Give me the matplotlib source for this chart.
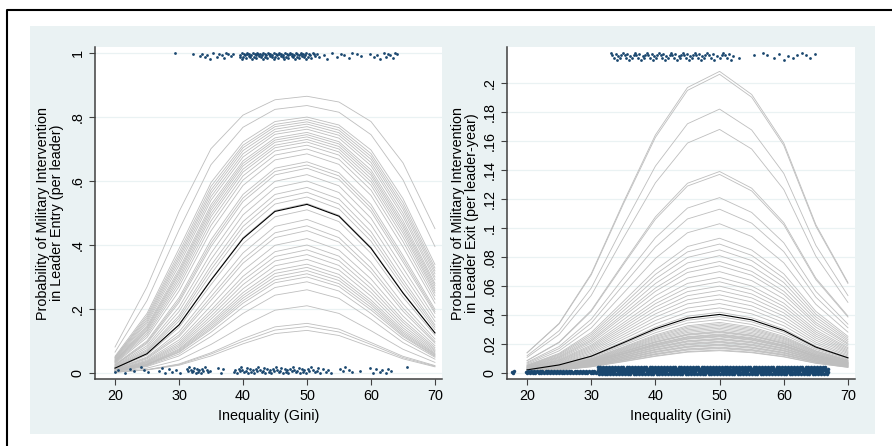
# -*- coding: utf-8 -*-

import numpy
import matplotlib
matplotlib.use('Agg')
import matplotlib.pyplot as plt
from matplotlib.lines import Line2D
from matplotlib.patches import Rectangle

plt.rcParams['font.family'] = ['Liberation Sans', 'DejaVu Sans']

gini = [20, 25, 30, 35, 40, 45, 50, 55, 60, 65, 70]

# mean predicted probability (black lines)
entry_mean = [0.015, 0.06, 0.15, 0.29, 0.42, 0.505, 0.527, 0.49, 0.39, 0.25, 0.125]
exit_mean = [0.0023, 0.0057, 0.0117, 0.021, 0.0306, 0.0379, 0.0405, 0.0368, 0.0294, 0.018, 0.0106]

# simulated draws (grey lines), entry in 1/1000, exit in 1/10000
entry_draws = [
    [81, 269, 504, 701, 806, 854, 865, 847, 786, 657, 451],
    [65, 226, 447, 651, 768, 824, 836, 815, 745, 604, 395],
    [52, 186, 388, 595, 722, 786, 800, 775, 697, 545, 339],
    [49, 179, 376, 583, 712, 777, 792, 767, 686, 533, 328],
    [48, 173, 366, 572, 704, 770, 785, 759, 677, 522, 319],
    [46, 167, 357, 562, 695, 762, 778, 751, 668, 512, 310],
    [44, 161, 347, 551, 685, 754, 770, 743, 658, 500, 300],
    [42, 155, 336, 540, 675, 746, 762, 734, 648, 489, 291],
    [40, 148, 324, 526, 663, 735, 752, 723, 635, 476, 280],
    [38, 143, 316, 517, 655, 728, 745, 716, 626, 466, 273],
    [37, 139, 309, 508, 647, 721, 738, 708, 618, 457, 265],
    [36, 134, 300, 498, 637, 712, 730, 700, 608, 447, 257],
    [34, 130, 291, 488, 628, 704, 722, 691, 598, 437, 250],
    [33, 124, 281, 475, 616, 694, 712, 681, 587, 425, 241],
    [31, 118, 270, 461, 603, 681, 700, 668, 572, 411, 230],
    [29, 111, 256, 444, 586, 666, 685, 652, 555, 394, 218],
    [26, 100, 235, 416, 558, 640, 660, 626, 527, 367, 199],
    [25, 96, 227, 405, 547, 630, 650, 616, 516, 357, 192],
    [24, 92, 220, 395, 536, 619, 640, 605, 505, 347, 186],
    [22, 85, 205, 374, 515, 599, 620, 585, 484, 328, 173],
    [20, 79, 192, 355, 494, 579, 600, 564, 463, 310, 161],
    [19, 73, 179, 336, 473, 558, 580, 544, 442, 292, 150],
    [17, 69, 171, 323, 458, 543, 565, 528, 427, 280, 143],
    [16, 65, 162, 309, 443, 528, 550, 513, 412, 268, 135],
    [15, 61, 152, 292, 423, 508, 530, 493, 393, 252, 126],
    [14, 56, 142, 276, 404, 488, 510, 473, 374, 237, 118],
    [12, 50, 128, 253, 375, 458, 480, 443, 346, 216, 106],
    [12, 47, 119, 238, 356, 438, 460, 423, 328, 203, 98],
    [11, 44, 113, 227, 343, 423, 445, 409, 315, 193, 93],
    [10, 40, 103, 210, 320, 399, 420, 384, 294, 178, 85],
    [9, 37, 96, 196, 302, 379, 400, 365, 277, 166, 79],
    [8, 35, 90, 187, 289, 364, 385, 351, 264, 158, 74],
    [8, 33, 85, 177, 276, 350, 370, 336, 252, 149, 70],
    [7, 31, 80, 168, 263, 335, 355, 322, 240, 141, 66],
    [7, 29, 75, 159, 251, 321, 340, 308, 228, 134, 62],
    [7, 27, 72, 153, 242, 311, 330, 298, 220, 128, 59],
    [6, 26, 69, 147, 234, 301, 320, 289, 213, 123, 57],
    [6, 25, 66, 141, 226, 291, 310, 279, 205, 118, 54],
    [6, 24, 64, 136, 218, 282, 300, 270, 197, 114, 52],
    [5, 22, 59, 127, 206, 267, 285, 256, 186, 107, 49],
    [5, 20, 53, 114, 186, 243, 260, 233, 168, 95, 43],
    [4, 15, 40, 89, 147, 196, 210, 186, 132, 74, 33],
    [3, 10, 28, 63, 107, 144, 155, 137, 95, 52, 23],
    [2, 10, 26, 59, 99, 134, 145, 128, 89, 48, 21],
    [2, 9, 24, 53, 91, 123, 133, 117, 81, 44, 19],
]
exit_draws = [
    [141, 344, 686, 1177, 1642, 1969, 2080, 1921, 1586, 1024, 625],
    [140, 340, 678, 1165, 1625, 1949, 2060, 1902, 1570, 1013, 618],
    [120, 293, 587, 1016, 1427, 1719, 1820, 1676, 1377, 881, 535],
    [109, 267, 536, 931, 1312, 1586, 1680, 1545, 1266, 806, 488],
    [87, 215, 433, 758, 1077, 1309, 1390, 1275, 1038, 655, 394],
    [86, 211, 426, 747, 1061, 1290, 1370, 1256, 1023, 645, 387],
    [75, 184, 372, 654, 933, 1138, 1210, 1108, 899, 564, 338],
    [69, 170, 345, 608, 870, 1063, 1130, 1034, 838, 524, 313],
    [62, 154, 312, 551, 791, 968, 1030, 942, 761, 475, 283],
    [56, 137, 280, 495, 712, 873, 930, 849, 685, 426, 254],
    [53, 131, 267, 473, 681, 836, 890, 812, 655, 407, 242],
    [50, 125, 254, 451, 650, 798, 850, 776, 625, 388, 230],
    [48, 118, 241, 429, 618, 760, 810, 739, 595, 369, 219],
    [45, 112, 229, 407, 587, 722, 770, 702, 565, 350, 207],
    [43, 107, 219, 390, 564, 694, 740, 675, 542, 335, 199],
    [41, 101, 207, 368, 533, 656, 700, 638, 512, 317, 187],
    [38, 95, 194, 347, 502, 619, 660, 601, 483, 298, 176],
    [37, 90, 185, 330, 479, 590, 630, 574, 460, 284, 168],
    [35, 86, 176, 314, 456, 562, 600, 546, 438, 270, 159],
    [33, 81, 167, 298, 432, 534, 570, 519, 416, 256, 151],
    [31, 77, 158, 282, 409, 506, 540, 491, 394, 242, 143],
    [29, 72, 149, 266, 386, 478, 510, 464, 371, 228, 135],
    [27, 68, 139, 250, 363, 449, 480, 436, 349, 214, 126],
    [26, 64, 130, 234, 340, 421, 450, 409, 327, 201, 118],
    [24, 59, 121, 218, 317, 393, 420, 382, 305, 187, 110],
    [22, 55, 113, 202, 295, 365, 390, 354, 283, 173, 102],
    [21, 52, 107, 192, 279, 346, 370, 336, 268, 164, 97],
    [20, 49, 101, 181, 264, 327, 350, 318, 254, 155, 91],
    [19, 48, 98, 176, 256, 318, 340, 309, 246, 151, 89],
    [19, 46, 95, 170, 249, 309, 330, 300, 239, 146, 86],
    [18, 45, 92, 165, 241, 299, 320, 291, 232, 142, 83],
    [17, 43, 89, 160, 234, 290, 310, 281, 224, 137, 81],
    [17, 42, 86, 155, 226, 281, 300, 272, 217, 133, 78],
    [16, 40, 83, 150, 218, 271, 290, 263, 210, 128, 75],
    [16, 40, 82, 147, 215, 266, 285, 259, 206, 126, 74],
    [16, 39, 80, 144, 211, 262, 280, 254, 203, 124, 73],
    [15, 38, 77, 139, 203, 252, 270, 245, 195, 119, 70],
    [15, 37, 76, 136, 200, 248, 265, 240, 192, 117, 69],
    [15, 36, 74, 134, 196, 243, 260, 236, 188, 115, 67],
    [14, 35, 73, 131, 192, 238, 255, 231, 184, 112, 66],
    [14, 35, 71, 129, 188, 234, 250, 227, 181, 110, 65],
    [13, 33, 68, 123, 181, 224, 240, 218, 173, 106, 62],
    [13, 33, 67, 121, 177, 220, 235, 213, 170, 103, 61],
    [13, 32, 66, 118, 173, 215, 230, 209, 166, 101, 59],
    [12, 30, 63, 113, 165, 206, 220, 200, 159, 97, 57],
    [12, 30, 61, 110, 162, 201, 215, 195, 155, 95, 55],
    [12, 29, 60, 108, 158, 196, 210, 190, 152, 92, 54],
    [11, 28, 57, 103, 150, 187, 200, 181, 144, 88, 52],
    [11, 27, 55, 100, 147, 182, 195, 177, 141, 86, 50],
    [11, 26, 54, 97, 143, 178, 190, 172, 137, 83, 49],
    [10, 25, 51, 92, 135, 168, 180, 163, 130, 79, 46],
    [10, 24, 50, 90, 131, 164, 175, 159, 126, 77, 45],
    [9, 23, 48, 87, 128, 159, 170, 154, 123, 75, 44],
    [9, 22, 45, 82, 120, 149, 160, 145, 115, 70, 41],
    [9, 21, 44, 79, 116, 145, 155, 141, 112, 68, 40],
]

# observed gini of leaders with / without intervention (rug at 1 and 0)
entry_hi_gini = [29.4, 32.2, 33.3, 33.6, 34.0, 34.4, 34.8, 35.3, 36.0, 36.3, 36.7, 37.0, 37.4,
                 37.7, 38.1, 38.4, 39.5, 39.6, 39.8, 39.9, 40.0, 40.2, 40.3, 40.4, 40.6, 40.7,
                 40.9, 41.0, 41.1, 41.3, 41.4, 41.5, 41.7, 41.8, 42.0, 42.1, 42.2, 42.4, 42.5,
                 42.7, 42.8, 42.9, 43.1, 43.2, 43.4, 43.5, 43.6, 43.8, 43.9, 44.1, 44.2, 44.3,
                 44.5, 44.6, 44.8, 44.9, 45.0, 45.2, 45.3, 45.5, 45.6, 45.7, 45.9, 46.0, 46.2,
                 46.3, 46.4, 46.6, 46.7, 46.9, 47.0, 47.1, 47.3, 47.4, 47.6, 47.7, 47.8, 48.0,
                 48.1, 48.3, 48.4, 48.5, 48.7, 48.8, 49.0, 49.1, 49.2, 49.4, 49.5, 49.7, 49.8,
                 49.9, 50.1, 50.3, 50.5, 50.7, 50.9, 51.1, 51.3, 51.6, 51.9, 52.6, 53.2, 53.9,
                 54.7, 55.3, 55.8, 56.5, 57.1, 57.8, 58.5, 59.8, 60.5, 61.0, 61.4, 62.0, 62.3,
                 62.7, 63.0, 63.4, 63.8, 64.0]
entry_lo_gini = [20.0, 20.5, 21.6, 22.4, 22.9, 24.0, 24.6, 25.1, 26.9, 27.3, 27.8, 28.4, 28.9,
                 29.5, 30.1, 31.2, 31.4, 31.6, 31.8, 32.0, 32.2, 32.4, 32.6, 32.8, 33.0, 33.2,
                 33.4, 33.6, 33.8, 34.0, 34.3, 34.6, 34.8, 36.1, 36.5, 36.9, 38.6, 38.8, 39.0,
                 39.3, 39.5, 39.7, 39.9, 40.2, 40.4, 40.6, 40.8, 41.1, 41.3, 41.5, 41.7, 42.0,
                 42.2, 42.4, 42.6, 42.9, 43.1, 43.3, 43.5, 43.8, 44.0, 44.2, 44.4, 44.7, 44.9,
                 45.1, 45.3, 45.6, 45.8, 46.0, 46.2, 46.5, 46.7, 46.9, 47.1, 47.4, 47.6, 47.8,
                 48.0, 48.3, 48.5, 48.7, 48.9, 49.2, 49.4, 49.6, 49.8, 50.1, 50.3, 50.6, 50.9,
                 51.2, 51.5, 51.8, 52.1, 52.5, 52.9, 53.3, 53.7, 55.2, 55.6, 56.0, 56.5, 57.1,
                 58.3, 59.8, 60.3, 60.8, 61.4, 61.8, 62.3, 62.7, 63.2, 65.6]
exit_hi_gini = [33.1, 33.3, 33.5, 33.8, 34.0, 34.2, 34.5, 34.7, 34.9, 35.2, 35.4, 35.6, 35.9,
                36.1, 36.3, 36.6, 36.8, 37.0, 37.3, 37.5, 37.7, 38.0, 38.2, 38.4, 38.7, 38.9,
                39.1, 39.4, 39.6, 39.8, 40.1, 40.3, 40.5, 40.8, 41.0, 41.2, 41.5, 41.7, 41.9,
                42.2, 42.4, 42.6, 42.9, 43.1, 43.3, 43.6, 43.8, 44.0, 44.3, 44.5, 44.7, 45.0,
                45.2, 45.4, 45.7, 45.9, 46.1, 46.4, 46.6, 46.8, 47.1, 47.3, 47.5, 47.8, 48.0,
                48.3, 48.6, 48.9, 49.2, 49.6, 50.0, 50.3, 50.6, 50.9, 51.2, 51.5, 51.8, 52.1,
                53.0, 55.3, 56.8, 57.4, 58.5, 59.3, 60.0, 60.7, 61.4, 62.1, 62.8, 63.5, 64.1,
                64.8]
exit_lo_gini_thin = [17.8, 20.0, 20.4, 20.9, 21.3, 21.8, 22.2, 22.7, 23.1, 23.6, 24.0, 24.5, 24.9,
                     25.4, 25.8, 26.3, 26.7, 27.2, 27.6, 28.1, 28.5, 29.0, 29.4, 29.9, 30.3, 30.8]
exit_lo_gini = [31.2, 31.6, 32.1, 32.5, 33.0, 33.4, 33.9, 34.3, 34.8, 35.2, 35.7, 36.1, 36.6,
                37.0, 37.5, 37.9, 38.4, 38.8, 39.3, 39.7, 40.2, 40.6, 41.1, 41.5, 42.0, 42.4,
                42.9, 43.3, 43.8, 44.2, 44.7, 45.1, 45.6, 46.0, 46.5, 46.9, 47.4, 47.8, 48.3,
                48.7, 49.2, 49.6, 50.1, 50.5, 51.0, 51.4, 51.9, 52.3, 52.8, 53.2, 53.7, 54.1,
                54.6, 55.0, 55.5, 55.9, 56.4, 56.8, 57.3, 57.7, 58.2, 58.6, 59.1, 59.5, 60.0,
                60.4, 60.9, 61.3, 61.8, 62.2, 62.7, 63.1, 63.6, 64.0, 64.5, 64.9, 65.4, 65.8,
                66.3, 66.7]

# vertical jitter of the rug points
jit_entry_hi = [0.0, -0.004, -0.009, -0.002, -0.013, -0.006, -0.018, -0.001, -0.011, -0.003,
                -0.007, -0.015]
jit_entry_lo = [0.002, 0.008, 0.0, 0.013, 0.005, 0.017, 0.010, 0.003, 0.007, 0.015, 0.001, 0.011]
jit_exit_hi = [0.0, -0.0015, -0.003, -0.0008, -0.0045, -0.002, -0.0035, -0.001]
jit_exit_thin = [(0.0, 0.0003), (0.2, 0.0013), (-0.15, 0.0008)]
jit_exit_band = [(0.0, -0.0004), (0.22, 0.0008), (-0.1, 0.0020), (0.12, 0.0032), (-0.2, 0.0044)]

entry_ticks = [0, 0.2, 0.4, 0.6, 0.8, 1]
entry_ticklabels = ['0', '.2', '.4', '.6', '.8', '1']
exit_ticks = [0, .02, .04, .06, .08, .1, .12, .14, .16, .18, .2]
exit_ticklabels = ['0', '.02', '.04', '.06', '.08', '.1', '.12', '.14', '.16', '.18', '.2']

navy = '#1A476F'
W, H = 892, 446


def cyc(vals, n):
    return [vals[i % len(vals)] for i in range(n)]


def rug(ax, x, y, ms=2):
    ax.plot(x, y, 'o', ms=ms, mew=0, color=navy)


def style(ax, draws, mean, ticks, labels, ylabel):
    for row in draws:
        ax.plot(gini, row, color='#BEBEBE', lw=0.6)
    ax.plot(gini, mean, color='black', lw=0.8)
    ax.set_xlim(16.875, 71.1)
    ax.set_xticks([20, 30, 40, 50, 60, 70])
    ax.set_yticks(ticks)
    ax.set_yticklabels(labels, rotation=90, va='center')
    for s in ('top', 'right'):
        ax.spines[s].set_visible(False)
    for s in ('left', 'bottom'):
        ax.spines[s].set_color('#404040')
        ax.spines[s].set_linewidth(1.1)
    ax.tick_params(labelsize=10.4, length=4.5, width=0.8, color='#404040', pad=3)
    ax.grid(axis='y', color='#EAF2F3', lw=0.9)
    ax.set_axisbelow(True)
    ax.set_xlabel('Inequality (Gini)', fontsize=10.4)
    ax.xaxis.set_label_coords(0.5, -0.09)
    ax.set_ylabel(ylabel, fontsize=10.4, linespacing=1.05)


fig = plt.figure(figsize=(W/100, H/100), dpi=100)
fig.add_artist(Rectangle((30/W, 1-434/H), 845/W, 408/H, facecolor='#EAF2F3',
                         edgecolor='none', zorder=0))
fig.add_artist(Line2D([7/W, 7/W, 1.01], [-0.01, 1-10/H, 1-10/H], color='black', lw=1.5))

ax1 = fig.add_axes([95/W, 67/H, 347/W, 332/H])
ax2 = fig.add_axes([507/W, 67/H, 348/W, 332/H])

style(ax1, numpy.array(entry_draws)/1000., entry_mean, entry_ticks, entry_ticklabels,
      'Probability of Military Intervention\nin Leader Entry (per leader)')
ax1.set_ylim(-0.019, 1.019)
ax1.yaxis.set_label_coords(-0.089, 0.5)

style(ax2, numpy.array(exit_draws)/10000., exit_mean, exit_ticks, exit_ticklabels,
      'Probability of Military Intervention\nin Leader Exit (per leader-year)')
ax2.set_ylim(-0.004, 0.2248)
ax2.yaxis.set_label_coords(-0.080, 0.5)

rug(ax1, entry_hi_gini, [1 + j for j in cyc(jit_entry_hi, len(entry_hi_gini))])
rug(ax1, entry_lo_gini, cyc(jit_entry_lo, len(entry_lo_gini)))
rug(ax2, exit_hi_gini, [0.2205 + j for j in cyc(jit_exit_hi, len(exit_hi_gini))])
for dx, dy in jit_exit_thin:
    rug(ax2, [g + dx for g in exit_lo_gini_thin], [dy] * len(exit_lo_gini_thin), ms=2.5)
for dx, dy in jit_exit_band:
    rug(ax2, [g + dx for g in exit_lo_gini], [dy] * len(exit_lo_gini), ms=2.6)

fig.savefig('out.png')
